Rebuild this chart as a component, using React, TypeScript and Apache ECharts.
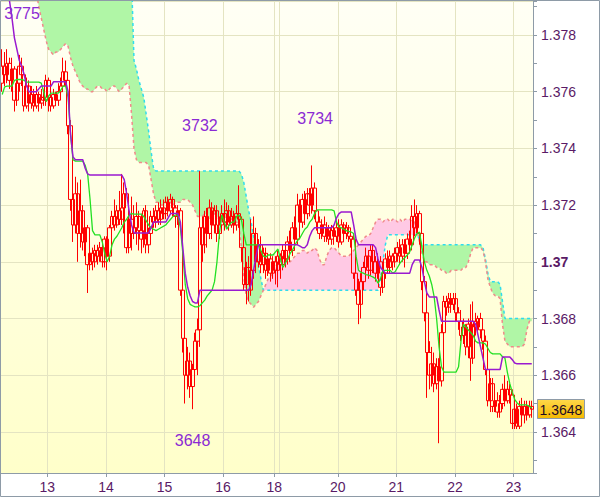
import React, { useEffect, useRef } from "react";
import * as echarts from "echarts";

// Prices are stored in pips: 3765 means 1.3765
// candles: [open, close, low, high], hourly bars
const candles: number[][] = [
  // 0
  [3763,3769,3760,3775],[3769,3766,3762,3774],[3766,3770,3763,3775],[3770,3764,3761,3772],[3764,3768,3760,3772],
  [3768,3757,3753,3769],[3757,3763,3755,3767],[3763,3769,3760,3773],[3769,3766,3762,3772],[3766,3755,3753,3768],
  // 10
  [3755,3762,3754,3765],[3762,3756,3753,3764],[3756,3759,3754,3762],[3759,3755,3753,3761],[3755,3759,3754,3762],
  [3759,3756,3753,3760],[3756,3758,3754,3761],[3758,3757,3755,3760],[3757,3764,3755,3766],[3764,3758,3753,3765],
  // 20
  [3758,3755,3753,3761],[3755,3759,3754,3761],[3759,3757,3755,3760],[3757,3760,3755,3763],[3760,3762,3758,3765],
  [3762,3767,3760,3772],[3767,3764,3762,3771],[3764,3748,3745,3766],[3748,3722,3718,3750],[3722,3713,3707,3725],
  // 30
  [3713,3724,3710,3730],[3724,3710,3700,3728],[3710,3718,3705,3729],[3718,3707,3704,3720],[3707,3712,3702,3714],
  [3712,3699,3689,3713],[3699,3703,3697,3705],[3703,3700,3697,3705],[3700,3704,3698,3706],[3704,3702,3699,3706],
  // 40
  [3702,3705,3700,3707],[3705,3700,3698,3708],[3700,3708,3698,3709],[3708,3702,3697,3709],[3702,3712,3700,3713],
  [3712,3716,3710,3718],[3716,3713,3711,3722],[3713,3718,3712,3720],[3718,3715,3713,3725],[3715,3719,3713,3731],
  // 50
  [3719,3724,3710,3728],[3724,3705,3703,3726],[3705,3715,3703,3717],[3715,3710,3704,3723],[3710,3712,3708,3720],
  [3712,3716,3706,3721],[3716,3711,3704,3718],[3711,3708,3703,3717],[3708,3718,3705,3719],[3718,3706,3703,3720],
  // 60
  [3706,3710,3703,3712],[3710,3716,3708,3718],[3716,3714,3712,3719],[3714,3718,3712,3720],[3718,3715,3713,3721],
  [3715,3719,3713,3722],[3719,3717,3715,3722],[3717,3721,3715,3723],[3721,3718,3716,3723],[3718,3722,3717,3724],
  // 70
  [3722,3719,3716,3723],[3719,3716,3712,3720],[3716,3718,3713,3720],[3718,3690,3688,3719],[3690,3673,3668,3692],
  [3673,3660,3650,3675],[3660,3665,3655,3670],[3665,3656,3652,3668],[3656,3662,3648,3664],[3662,3672,3658,3675],
  // 80
  [3672,3676,3660,3680],[3676,3712,3670,3732],[3712,3706,3700,3716],[3706,3716,3703,3718],[3716,3710,3705,3719],
  [3710,3719,3708,3722],[3719,3713,3708,3721],[3713,3718,3710,3720],[3718,3710,3707,3720],[3710,3713,3708,3716],
  // 90
  [3713,3717,3711,3720],[3717,3714,3711,3722],[3714,3718,3712,3721],[3718,3713,3711,3720],[3713,3716,3712,3719],
  [3716,3713,3710,3718],[3713,3717,3711,3720],[3717,3715,3712,3727],[3715,3705,3700,3716],[3705,3692,3690,3712],
  // 100
  [3692,3698,3685,3700],[3698,3690,3686,3702],[3690,3697,3688,3715],[3697,3710,3694,3716],[3710,3700,3696,3712],
  [3700,3706,3698,3708],[3706,3699,3696,3709],[3699,3703,3696,3705],[3703,3697,3694,3705],[3697,3701,3695,3703],
  // 110
  [3701,3696,3693,3703],[3696,3700,3694,3702],[3700,3697,3692,3702],[3697,3702,3691,3704],[3702,3699,3694,3703],
  [3699,3704,3697,3706],[3704,3701,3698,3707],[3701,3707,3699,3709],[3707,3704,3700,3711],[3704,3712,3702,3714],
  // 120
  [3712,3708,3704,3716],[3708,3720,3706,3724],[3720,3714,3710,3722],[3714,3722,3712,3724],[3722,3717,3713,3725],
  [3717,3724,3715,3726],[3724,3720,3716,3726],[3720,3726,3717,3734],[3726,3718,3715,3728],[3718,3714,3711,3720],
  // 130
  [3714,3710,3708,3716],[3710,3713,3708,3715],[3713,3709,3707,3716],[3709,3712,3707,3714],[3712,3708,3706,3713],
  [3708,3711,3706,3713],[3711,3709,3706,3713],[3709,3712,3707,3714],[3712,3707,3705,3715],[3707,3713,3706,3715],
  // 140
  [3713,3710,3708,3714],[3710,3712,3708,3714],[3712,3709,3707,3713],[3709,3708,3705,3711],[3708,3696,3694,3710],
  [3696,3690,3688,3699],[3690,3685,3678,3694],[3685,3693,3680,3696],[3693,3698,3690,3700],[3698,3702,3695,3705],
  // 150
  [3702,3697,3694,3704],[3697,3704,3695,3706],[3704,3700,3696,3706],[3700,3696,3693,3702],[3696,3700,3694,3703],
  [3700,3691,3688,3702],[3691,3696,3689,3698],[3696,3701,3694,3703],[3701,3698,3696,3704],[3698,3702,3696,3704],
  // 160
  [3702,3700,3697,3703],[3700,3703,3698,3705],[3703,3705,3700,3707],[3705,3702,3699,3708],[3702,3706,3700,3708],
  [3706,3703,3698,3708],[3703,3708,3701,3710],[3708,3706,3703,3711],[3706,3716,3704,3720],[3716,3712,3709,3722],
  // 170
  [3712,3717,3710,3720],[3717,3710,3706,3718],[3710,3693,3690,3712],[3693,3682,3679,3695],[3682,3668,3652,3684],
  [3668,3660,3655,3672],[3660,3664,3656,3670],[3664,3657,3654,3668],[3657,3663,3655,3666],[3663,3658,3636,3666],
  // 180
  [3658,3675,3656,3678],[3675,3686,3672,3688],[3686,3684,3681,3688],[3684,3687,3682,3689],[3687,3685,3682,3689],
  [3685,3687,3683,3689],[3687,3682,3679,3689],[3682,3679,3676,3684],[3679,3674,3672,3683],[3674,3677,3671,3680],
  // 190
  [3677,3670,3667,3678],[3670,3678,3666,3680],[3678,3666,3658,3685],[3666,3679,3664,3686],[3679,3677,3674,3682],
  [3677,3680,3675,3681],[3680,3676,3673,3682],[3676,3672,3669,3678],[3672,3662,3660,3674],[3662,3651,3649,3664],
  // 200
  [3651,3657,3647,3659],[3657,3649,3647,3659],[3649,3651,3647,3653],[3651,3647,3645,3654],[3647,3650,3645,3653],
  [3650,3655,3648,3657],[3655,3651,3649,3660],[3651,3655,3650,3658],[3655,3653,3650,3657],[3653,3643,3641,3655],
  // 210
  [3643,3648,3641,3650],[3648,3642,3641,3650],[3642,3649,3641,3651],[3649,3646,3644,3652],[3646,3649,3643,3651],
  [3649,3646,3644,3651],[3646,3649,3645,3651],[3649,3648,3645,3651],
];

// Cloud span A (cyan dashed), per bar
const spanA: number[] = [
  3800,3800,3800,3800,3800,3800,3800,3800,3800,3800,
  3800,3800,3800,3800,3800,3800,3800,3800,3800,3800,
  3800,3800,3800,3800,3800,3800,3800,3800,3800,3800,
  3800,3800,3800,3800,3800,3800,3800,3800,3800,3800,
  3800,3800,3800,3800,3800,3800,3800,3800,3800,3800,
  3800,3800,3800,3800,3771,3768,3764,3761,3758,3752,
  3746,3739,3733,3732,3732,3732,3732,3732,3732,3732,
  3732,3732,3732,3732,3732,3732,3732,3732,3732,3732,
  3732,3732,3732,3732,3732,3732,3732,3732,3732,3732,
  3732,3732,3732,3732,3732,3732,3732,3732,3731,3728,
  3723,3718,3714,3709,3704,3699,3694,3690,3690,3690,
  3690,3690,3690,3690,3690,3690,3690,3690,3690,3690,
  3690,3690,3690,3690,3690,3690,3690,3690,3690,3690,
  3690,3690,3690,3690,3690,3690,3690,3690,3690,3690,
  3690,3690,3690,3690,3690,3690,3690,3690,3690,3690,
  3690,3690,3690,3690,3690,3694,3700,3706,3709.5,3709.5,
  3709.5,3709.5,3709.5,3709.5,3709.5,3709.5,3709.5,3709.5,3709.5,3709.5,
  3709.5,3708,3706,3706,3706,3706,3706,3706,3706,3706,
  3706,3706,3706,3706,3706,3706,3706,3706,3706,3706,
  3706,3706,3706,3706,3706,3706,3706,3705,3701,3696,
  3693,3693,3693,3693,3692,3686,3680,3680,3680,3680,
  3680,3680,3680,3680,3680,3680,3680,3680,
];

// Cloud span B (salmon dashed), per bar
const spanB: number[] = [
  3800,3800,3800,3800,3800,3800,3800,3800,3800,3800,
  3800,3800,3800,3800,3795,3790,3786,3782,3778,3775,
  3774,3773,3774,3774,3775,3776,3777,3776,3772,3769,
  3767,3765,3763,3762,3761,3761,3760,3760,3761,3762,
  3762,3761,3761,3760,3761,3762,3762,3761,3760,3761,
  3762,3763,3762,3752,3740,3736,3735,3735,3735,3735,
  3734,3729,3724,3721,3721,3720,3720,3721,3720,3721,
  3720,3721,3721,3721,3722,3722,3722,3721,3720,3718,
  3716,3716,3716,3717,3716,3715,3716,3717,3716,3715,
  3714,3715,3716,3716,3715,3714,3714,3713,3705,3695,
  3688,3686,3685,3684,3685,3686,3688,3690,3692,3694,
  3695,3696,3698,3700,3700,3700,3701,3700,3700,3701,
  3702,3703,3703,3704,3704,3703,3704,3704,3705,3704,
  3701,3699,3699,3702,3704,3705,3705,3704,3703,3702,
  3702,3702,3702,3703,3704,3705,3706,3707,3708,3709,
  3709,3710,3712,3714,3715,3715,3714,3715,3715,3714,
  3715,3715,3714,3715,3714,3715,3715,3715,3714,3714,
  3711,3707,3703,3700,3700,3699,3699,3699,3698,3698,
  3697,3697,3696,3696,3697,3697,3697,3697,3697,3698,
  3698,3700,3703,3705,3705,3705,3705,3704,3700,3694,
  3691,3689,3688,3688,3687,3678,3672,3671,3670,3670,
  3670,3670,3670,3670,3671,3676,3679,3679,
];

// Purple (kijun-like) line, per bar
const kijun: number[] = [
  3793,3793,3793,3792,3786,3779,3775,3771,3769,3766,
  3762,3760,3760,3760,3760,3761,3762,3762,3762,3762,
  3762,3763.5,3763.5,3763.5,3763.5,3763.5,3763.5,3760,3745,3737,
  3736,3736,3736,3736,3733,3731,3730.6,3730.6,3730.6,3730.6,
  3730.6,3730.6,3730.6,3730.6,3730.6,3730.6,3730.6,3730.6,3730.6,3730.6,
  3729,3724,3718,3713,3710.2,3710.2,3710.2,3710.2,3710.2,3710.2,
  3710.2,3712,3714,3714,3714,3714,3714,3714,3715.5,3717,
  3717,3717,3717,3714,3705,3696,3691,3688,3686,3685.5,
  3685.5,3690,3690,3690,3690,3690,3690,3690,3690,3690,
  3690,3690,3690,3690,3690,3690,3690,3690,3690,3690,
  3690,3690,3692,3697,3702,3706,3706,3706,3706,3706,
  3706,3706,3706,3706,3706,3706,3706,3706,3706,3706,
  3706,3706,3705.5,3705,3705,3706,3709,3711,3712,3712,
  3712,3712,3712,3712,3712,3712,3713,3715.5,3717,3717.6,
  3717.6,3717.6,3717.6,3717.6,3713,3708,3706,3706,3706,3706,
  3706,3706,3706,3705,3701,3698,3697,3696,3696,3696,
  3696,3696,3696,3696,3696,3696,3696,3696,3699,3700.6,
  3700.6,3700.6,3698,3693,3689,3687.6,3687.6,3687.6,3687.6,3683,
  3679,3679,3679,3679,3679,3679,3679,3679,3679,3679,
  3679,3679,3679,3679,3678,3674,3670,3666,3662,3662,
  3662,3662,3662,3662,3662,3666.4,3666.4,3666.4,3666.4,3665.5,
  3664.3,3664,3664,3664,3664,3664,3664,3664,
];

// Green (tenkan-like) line, per bar
const tenkan: number[] = [
  3759,3761.7,3762,3762,3762,3764,3764.3,3764.3,3764.3,3764,
  3763.4,3763.4,3763.4,3763.4,3763.4,3763.4,3763,3760,3756.5,3758.5,
  3759.5,3759.5,3759.5,3759.5,3760.5,3762,3762,3758,3745,3736,
  3735.5,3735.5,3735.5,3735.5,3734,3731,3722,3711,3709.5,3709.5,
  3709.5,3707,3703,3700,3702,3706,3708,3709,3710.5,3712,
  3714,3715,3716.5,3717,3716.8,3716.8,3716.8,3716.8,3716,3714.5,
  3713,3712,3711.5,3711,3711.5,3712,3712.5,3713,3714,3715,
  3716,3716.5,3716.5,3712,3703,3692,3687,3685,3684.5,3684.1,
  3684.1,3684.5,3685.5,3686.5,3688,3689,3690,3693,3700,3710,
  3716.5,3714,3711.5,3713,3714,3714,3716,3716.5,3715,3710,
  3706,3706,3706,3706,3706,3706,3704,3702,3701.7,3702.4,
  3702.4,3702.4,3703.5,3704.5,3701,3698,3699.5,3701,3703,3704.2,
  3706,3707.5,3708.4,3710,3711.5,3712.3,3714,3715,3717,3718.3,
  3718.3,3718.3,3718.3,3718.3,3718.3,3718.3,3718,3714,3712.3,3712,
  3711.5,3711,3710.7,3710.5,3710,3702,3697,3696.3,3696,3695.5,
  3695.3,3695,3694.6,3694,3692.5,3694,3697,3697,3697,3697,
  3696,3696.5,3698,3699.5,3700.6,3701.5,3702.4,3703.5,3706,3708.4,
  3710,3710.5,3705,3700,3697,3695,3692,3687.6,3680,3670,
  3663,3661.1,3661.1,3661.1,3661.1,3661.1,3661.1,3663,3672,3678,
  3677,3676,3675,3674,3672,3671.4,3671.4,3671.4,3671,3669.5,
  3668,3667.5,3667.5,3667.5,3667.5,3666.5,3666,3661,3657,3654,
  3651.5,3650.2,3649.5,3649.5,3649.5,3649.5,3649,3648.4,
];

// Day labels and the bar index at which each day starts
const dayLabels = ["13", "14", "15", "16", "18", "20", "21", "22", "23"];
const dayStarts = [19, 43, 67, 91, 112, 138, 162, 186, 210];
const unlabeledDayStarts = [114]; // the 19th (label hidden)

// High / low annotations
const noteBars = [2, 81, 127, 78];
const noteValues = [3775, 3732, 3734, 3648];

const yMin = 1.36255;
const yMax = 1.3792;

const FONT = "'Liberation Sans', Arial, Helvetica, sans-serif";
const GRAY = "#8e9ba7";
const GRID = "#e4e4c2";
const LABEL = "#5a1a66";
const NOTE = "#8b2ad4";

const toPrice = (p: number) => 1 + p / 10000;

export default function App() {
  const ref = useRef<HTMLDivElement>(null);

  useEffect(() => {
    if (!ref.current) return;
    const chart = echarts.init(ref.current, undefined, { renderer: "svg" });
    const n = candles.length;
    const barCats = candles.map((_, i) => String(i));
    const edgeCats = Array.from({ length: n + 1 }, (_, i) => String(i));
    const isDay = (i: number) => dayStarts.indexOf(i) >= 0;
    const isLine = (i: number) => isDay(i) || unlabeledDayStarts.indexOf(i) >= 0;
    const dayLabelAt = (i: number) => {
      const k = dayStarts.indexOf(i);
      return k >= 0 ? dayLabels[k] : "";
    };

    const cloudBase = spanA.map((a, i) => toPrice(Math.min(a, spanB[i])));
    const cloudUp = spanA.map((a, i) => Math.max(a - spanB[i], 0) / 10000);
    const cloudDown = spanA.map((a, i) => Math.max(spanB[i] - a, 0) / 10000);
    const lastClose = toPrice(candles[n - 1][1]);
    const noteOffsets = [[15, -36], [0, -46], [3, -47], [0, 31]];

    const yFmt = (v: number) => {
      const k = Math.round(v * 1000);
      if (Math.abs(v * 1000 - k) > 1e-6) return "";
      if (k % 2 !== 0) return "";
      const s = String(parseFloat((k / 1000).toFixed(3)));
      return k === 1370 ? "{b|" + s + "}" : s;
    };

    const border = {
      type: "rect",
      id: "frame",
      silent: true,
      z: 100,
      shape: { x: 0.5, y: 0.5, width: 599, height: 496 },
      style: { fill: "none", stroke: GRAY, lineWidth: 1 },
    };

    const option: any = {
      animation: false,
      backgroundColor: "#ffffff",
      textStyle: { fontFamily: FONT },
      grid: {
        left: 1,
        top: 1,
        right: 67,
        bottom: 24,
        show: true,
        borderWidth: 0,
        backgroundColor: new echarts.graphic.LinearGradient(0, 0, 0, 1, [
          { offset: 0, color: "#fffff5" },
          { offset: 1, color: "#ffffca" },
        ]),
      },
      xAxis: [
        { type: "category", data: barCats, boundaryGap: true, show: false },
        {
          type: "category",
          data: edgeCats,
          boundaryGap: false,
          position: "bottom",
          axisLine: { show: true, lineStyle: { color: GRAY, width: 1 } },
          axisTick: { show: true, length: 4, interval: (i: number) => isDay(i), lineStyle: { color: GRAY } },
          axisLabel: {
            show: true,
            interval: (i: number) => isDay(i),
            formatter: (_v: string, i: number) => dayLabelAt(i),
            color: LABEL,
            fontSize: 14,
            fontFamily: FONT,
            margin: 7,
          },
          splitLine: { show: true, interval: (i: number) => isLine(i), lineStyle: { color: GRID, width: 1 } },
        },
      ],
      yAxis: [
        {
          type: "value",
          position: "right",
          min: yMin,
          max: yMax,
          minInterval: 0.001,
          maxInterval: 0.001,
          axisLine: { show: true, lineStyle: { color: GRAY, width: 1 } },
          axisTick: { show: true, length: 4, lineStyle: { color: GRAY } },
          axisLabel: {
            show: true,
            margin: 8,
            color: LABEL,
            fontSize: 14,
            fontFamily: FONT,
            formatter: yFmt,
            rich: { b: { fontWeight: "bold", fontSize: 14, color: LABEL, fontFamily: FONT } },
          },
          splitLine: { show: false },
        },
        {
          type: "value",
          position: "right",
          min: yMin,
          max: yMax,
          minInterval: 0.002,
          maxInterval: 0.002,
          axisLine: { show: false },
          axisTick: { show: false },
          axisLabel: { show: false },
          splitLine: { show: true, lineStyle: { color: GRID, width: 1 } },
        },
      ],
      series: [
        {
          type: "line", data: cloudBase, stack: "cloud", symbol: "none", silent: true, z: 1,
          lineStyle: { width: 0, opacity: 0 },
        },
        {
          type: "line", data: cloudUp, stack: "cloud", symbol: "none", silent: true, z: 1,
          lineStyle: { width: 0, opacity: 0 }, areaStyle: { color: "#b0f6a6", opacity: 1 },
        },
        {
          type: "line", data: cloudDown, stack: "cloud", symbol: "none", silent: true, z: 1,
          lineStyle: { width: 0, opacity: 0 }, areaStyle: { color: "#ffc9e4", opacity: 1 },
        },
        {
          type: "line", data: spanA.map(toPrice), symbol: "none", silent: true, z: 2,
          lineStyle: { color: "#2fdcee", width: 1.5, type: [3, 3] },
        },
        {
          type: "line", data: spanB.map(toPrice), symbol: "none", silent: true, z: 2,
          lineStyle: { color: "#f08a8a", width: 1.5, type: [3, 3] },
        },
        {
          type: "candlestick",
          data: candles.map((r) => r.map(toPrice)),
          barWidth: 4,
          z: 3,
          silent: true,
          itemStyle: {
            color: "rgba(0,0,0,0)",
            color0: "rgba(0,0,0,0)",
            borderColor: "#ff0000",
            borderColor0: "#ff0000",
            borderWidth: 1,
          },
          markPoint: {
            silent: true,
            symbol: "circle",
            symbolSize: 1,
            itemStyle: { color: "rgba(0,0,0,0)" },
            label: {
              show: true,
              position: "inside",
              color: NOTE,
              fontSize: 16,
              fontFamily: FONT,
              formatter: (p: any) => String(p.value),
            },
            data: noteBars.map((b, k) => ({
              coord: [String(b), toPrice(noteValues[k])],
              value: noteValues[k],
              label: { offset: noteOffsets[k] },
            })),
          },
        },
        {
          type: "line", data: tenkan.map(toPrice), symbol: "none", silent: true, z: 4,
          lineStyle: { color: "#22e022", width: 1.3 },
        },
        {
          type: "line", data: kijun.map(toPrice), symbol: "none", silent: true, z: 4,
          lineStyle: { color: "#9a1ad0", width: 1.5 },
        },
      ],
      graphic: [border],
    };

    chart.setOption(option);

    // Last-price tag on the price axis, placed from the value through the axis scale
    const py = chart.convertToPixel({ yAxisIndex: 0 }, lastClose) as number;
    const rect = (chart as any).getModel().getComponent("grid", 0).coordinateSystem.getRect();
    const ax = rect.x + rect.width;
    chart.setOption({
      graphic: [
        border,
        {
          type: "group",
          id: "lastTag",
          z: 90,
          silent: true,
          children: [
            {
              type: "rect",
              shape: { x: ax + 4.5, y: Math.round(py) - 9.5, width: 47, height: 19 },
              style: {
                fill: new echarts.graphic.LinearGradient(0, 0, 0, 1, [
                  { offset: 0, color: "#ffd84a" },
                  { offset: 1, color: "#f5b800" },
                ]),
                stroke: GRAY,
                lineWidth: 1,
              },
            },
            {
              type: "text",
              style: {
                x: ax + 28,
                y: Math.round(py) + 0.5,
                text: lastClose.toFixed(4),
                fill: "#1e0a24",
                font: "14px " + FONT,
                textAlign: "center",
                textVerticalAlign: "middle",
              },
            },
          ],
        },
      ],
    });

    return () => chart.dispose();
  }, []);

  return (
    <div
      ref={ref}
      style={{ position: "absolute", left: 0, top: 0, width: 600, height: 497 }}
    />
  );
}
